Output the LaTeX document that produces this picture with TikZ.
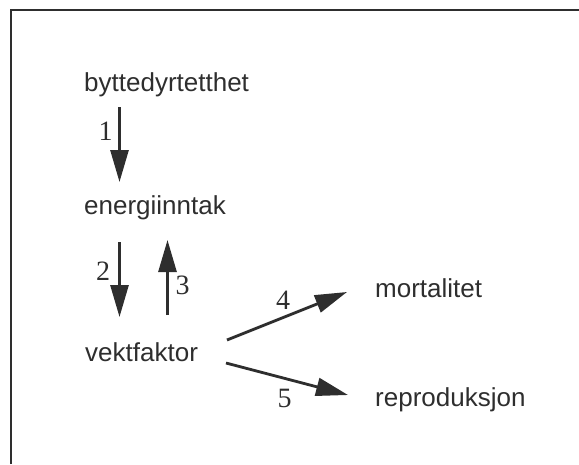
\documentclass[tikz,border=0pt]{standalone}
\usepackage{fontspec}
\setmainfont{Liberation Sans}
\newfontfamily\numfont{Liberation Serif}
\usetikzlibrary{arrows.meta}
\definecolor{ink}{HTML}{2E2E2E}
\begin{document}
\begin{tikzpicture}[x=1pt,y=-1pt,
  lbl/.style={anchor=base west,inner sep=0pt,font=\fontsize{26}{30}\selectfont,text=ink},
  num/.style={inner sep=0pt,font=\numfont\fontsize{28}{32}\selectfont,text=ink},
  arr/.style={draw=ink,line width=2.8pt,-{Triangle[length=32pt,width=18pt,fill=ink]}},
  frame/.style={draw=ink,line width=2.8pt}]
\useasboundingbox (0,0) rectangle (579,464);
% frame
\coordinate (fb) at (11,464);
\coordinate (fc) at (11,10);
\coordinate (fr) at (579,10);
\draw[frame] (fb) -- (fc) -- (fr);
% texts
\node[lbl] (b) at (84,91) {byttedyrtetthet};
\node[lbl] (e) at (84,214) {energiinntak};
\node[lbl] (v) at (85,361) {vektfaktor};
\node[lbl] (m) at (375,297) {mortalitet};
\node[lbl] (r) at (375,406) {reproduksjon};
% arrow end points
\coordinate (a1s) at (119.5,107);
\coordinate (a1e) at (119.5,182);
\coordinate (a2s) at (119.5,242);
\coordinate (a2e) at (119.5,317);
\coordinate (a3s) at (167.5,315);
\coordinate (a3e) at (167.5,240);
\coordinate (a4s) at (227,340);
\coordinate (a4e) at (347,292);
\coordinate (a5s) at (226,363);
\coordinate (a5e) at (348,395);
% arrows
\draw[arr] (a1s) -- (a1e);
\draw[arr] (a2s) -- (a2e);
\draw[arr] (a3s) -- (a3e);
\draw[arr] (a4s) -- (a4e);
\draw[arr] (a5s) -- (a5e);
% labels
\node[num] (n1) at (105.5,131) {1};
\node[num] (n2) at (103,271) {2};
\node[num] (n3) at (182.5,285.5) {3};
\node[num] (n4) at (283,300) {4};
\node[num] (n5) at (284.5,398.5) {5};
\end{tikzpicture}
\end{document}
